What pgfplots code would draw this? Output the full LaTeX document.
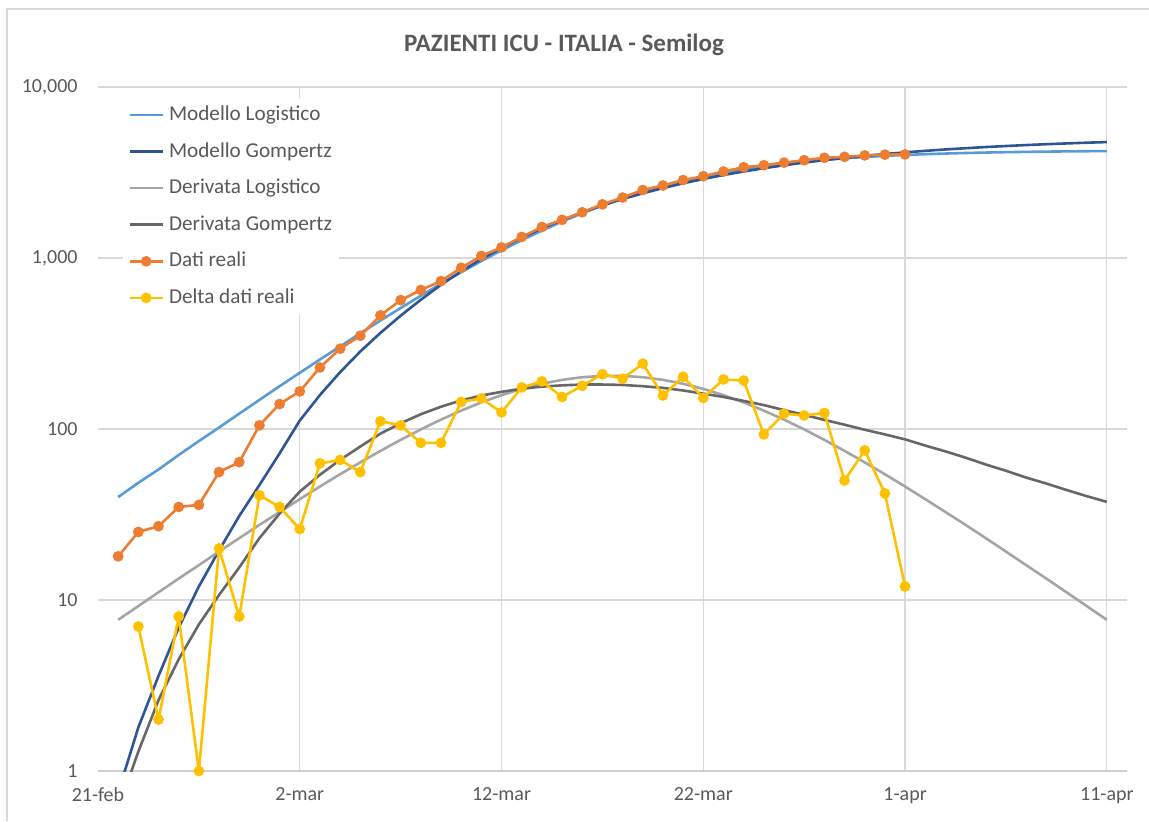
\documentclass[border=0pt]{standalone}
\usepackage{pgfplots}
\pgfplotsset{compat=1.18}
\usepackage{fontspec}
\setmainfont{Carlito}
\definecolor{cLog}{HTML}{5B9BD5}
\definecolor{cGom}{HTML}{2F5597}
\definecolor{cDL}{HTML}{A5A5A5}
\definecolor{cDG}{HTML}{676767}
\definecolor{cOra}{HTML}{ED7D31}
\definecolor{cYel}{HTML}{FFC000}
\definecolor{gridc}{HTML}{D9D9D9}
\definecolor{axc}{HTML}{D0D0D0}
\definecolor{txt}{HTML}{595959}
\begin{document}
\begin{tikzpicture}
\useasboundingbox (0pt,0pt) rectangle (574.5pt,410.5pt);
\draw[color=gridc, line width=0.6pt] (3.5pt,0pt) -- (3.5pt,406pt) -- (574.5pt,406pt);
\node[font=\fontsize{12.5}{15}\selectfont\bfseries, text=txt] at (282pt,388pt) {PAZIENTI ICU - ITALIA - Semilog};
\begin{axis}[
  at={(49pt,25pt)}, anchor=south west, scale only axis,
  width=514.5pt, height=342pt,
  ymode=log, log basis y=10,
  ymin=1, ymax=10000, xmin=0, xmax=51,
  axis x line*=bottom, axis y line*=left,
  x axis line style={draw=axc, line width=0.6pt, -},
  y axis line style={draw=none},
  major tick length=0pt, tick style={draw=none},
  xmajorgrids, ymajorgrids,
  major grid style={draw=gridc, line width=0.6pt},
  xtick={10,20,30,40,50},
  xticklabels={2-mar,12-mar,22-mar,1-apr,11-apr},
  extra x ticks={0}, extra x tick labels={21-feb},
  extra x tick style={grid=none},
  ytick={1,10,100,1000,10000},
  yticklabels={1,10,100,{1,000},{10,000}},
  tick label style={font=\fontsize{10}{12}\selectfont, text=txt},
  yticklabel style={xshift=-6.7pt},
  xticklabel style={yshift=-4.7pt},
  legend style={at={(0.0243,0.9839)}, anchor=north west, draw=none, fill=white,
    font=\fontsize{10.6}{12.7}\selectfont, row sep=5.8pt, column sep=1.5pt, inner xsep=2.5pt, inner ysep=2pt,
    nodes={text height=8pt, text depth=2.5pt, inner sep=1pt, text=txt}},
  legend cell align=left,
  legend image code/.code={\draw[mark repeat=2,mark phase=2,#1] plot coordinates {(0pt,0pt) (8.25pt,0pt) (16.5pt,0pt)};},
]
% Modello Logistico
\addplot[color=cLog, line width=1.3pt, no markers] coordinates {
(1,40) (2,48.5) (3,58) (4,70.5) (5,85) (6,102) (7,123) (8,148) (9,178) (10,213)
(11,255) (12,304) (13,363) (14,431) (15,510) (16,602) (17,707) (18,826) (19,960) (20,1109)
(21,1271) (22,1447) (23,1633) (24,1828) (25,2029) (26,2231) (27,2431) (28,2627) (29,2813) (30,2989)
(31,3152) (32,3300) (33,3434) (34,3553) (35,3658) (36,3750) (37,3829) (38,3898) (39,3956) (40,4005)
(41,4047) (42,4082) (43,4112) (44,4137) (45,4158) (46,4175) (47,4190) (48,4202) (49,4212) (50,4220)};
\addlegendentry{Modello Logistico}
% Modello Gompertz
\addplot[color=cGom, line width=1.3pt, no markers] coordinates {
(1,0.75) (2,1.8) (3,3.6) (4,6.9) (5,12) (6,19.5) (7,31) (8,47) (9,72) (10,112)
(11,158) (12,215) (13,284) (14,365) (15,460) (16,570) (17,697) (18,836) (19,986) (20,1147)
(21,1315) (22,1490) (23,1668) (24,1849) (25,2031) (26,2212) (27,2390) (28,2564) (29,2734) (30,2898)
(31,3056) (32,3206) (33,3350) (34,3486) (35,3615) (36,3736) (37,3850) (38,3956) (39,4055) (40,4147)
(41,4233) (42,4313) (43,4387) (44,4455) (45,4518) (46,4575) (47,4629) (48,4678) (49,4723) (50,4764)};
\addlegendentry{Modello Gompertz}
% Derivata Logistico
\addplot[color=cDL, line width=1.3pt, no markers] coordinates {
(1,7.66) (2,9.22) (3,11.1) (4,13.35) (5,16.0) (6,19.2) (7,23.0) (8,27.5) (9,32.7) (10,38.9)
(11,46.1) (12,54.4) (13,63.8) (14,74.5) (15,86.4) (16,99.5) (17,113.5) (18,128.1) (19,143.1) (20,157.8)
(21,171.7) (22,183.9) (23,193.8) (24,200.9) (25,204.5) (26,204.5) (27,200.9) (28,193.9) (29,183.9) (30,171.7)
(31,157.8) (32,143.1) (33,128.1) (34,113.5) (35,99.5) (36,86.4) (37,74.5) (38,63.8) (39,54.4) (40,46.1)
(41,38.9) (42,32.7) (43,27.5) (44,23.0) (45,19.2) (46,16.0) (47,13.35) (48,11.1) (49,9.22) (50,7.66)};
\addlegendentry{Derivata Logistico}
% Derivata Gompertz
\addplot[color=cDG, line width=1.3pt, no markers] coordinates {
(1,0.6) (2,1.3) (3,2.6) (4,4.5) (5,7.2) (6,10.7) (7,15.5) (8,23) (9,32) (10,43)
(11,54) (12,66) (13,79) (14,94) (15,108) (16,122) (17,135) (18,147) (19,157) (20,165)
(21,172) (22,177) (23,180) (24,182) (25,182) (26,181) (27,178) (28,174) (29,168) (30,161)
(31,154) (32,146) (33,138) (34,129) (35,121) (36,113) (37,106) (38,99) (39,93) (40,87)
(41,80) (42,74) (43,68) (44,62) (45,57) (46,52) (47,48) (48,44) (49,40.5) (50,37.5)};
\addlegendentry{Derivata Gompertz}
% Dati reali
\addplot[color=cOra, line width=1.3pt, mark=*, mark size=2pt, mark options={solid, fill=cOra, draw=cOra}] coordinates {
(1,18) (2,25) (3,27) (4,35) (5,36) (6,56) (7,64) (8,105) (9,140) (10,166)
(11,229) (12,295) (13,351) (14,462) (15,567) (16,650) (17,733) (18,877) (19,1028) (20,1153)
(21,1328) (22,1518) (23,1672) (24,1851) (25,2060) (26,2257) (27,2498) (28,2655) (29,2857) (30,3009)
(31,3204) (32,3396) (33,3489) (34,3612) (35,3732) (36,3856) (37,3906) (38,3981) (39,4023) (40,4035)};
\addlegendentry{Dati reali}
% Delta dati reali
\addplot[color=cYel, line width=1.3pt, mark=*, mark size=2pt, mark options={solid, fill=cYel, draw=cYel}] coordinates {
(2,7) (3,2) (4,8) (5,1) (6,20) (7,8) (8,41) (9,35) (10,26)
(11,63) (12,66) (13,56) (14,111) (15,105) (16,83) (17,83) (18,144) (19,151) (20,125)
(21,175) (22,190) (23,154) (24,179) (25,209) (26,197) (27,241) (28,157) (29,202) (30,152)
(31,195) (32,192) (33,93) (34,123) (35,120) (36,124) (37,50) (38,75) (39,42) (40,12)};
\addlegendentry{Delta dati reali}
\end{axis}
\end{tikzpicture}
\end{document}
